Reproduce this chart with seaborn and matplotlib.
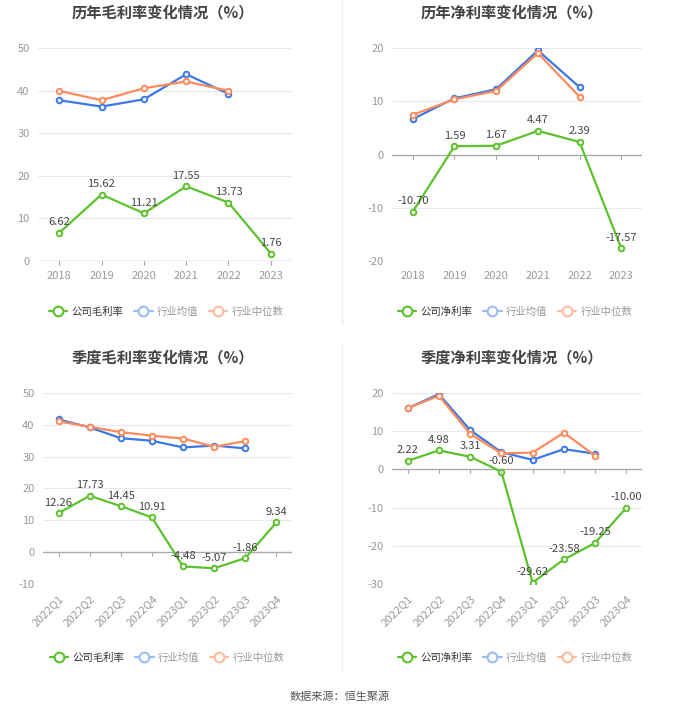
import numpy as np
import pandas as pd
import matplotlib
matplotlib.use("Agg")
import matplotlib.pyplot as plt
from matplotlib.lines import Line2D
import seaborn as sns

sns.set_style("white")
plt.rcParams['font.family'] = ['Noto Sans CJK SC', 'DejaVu Sans']
plt.rcParams['axes.unicode_minus'] = False

years = ['2018', '2019', '2020', '2021', '2022', '2023']
quarters = ['2022Q1', '2022Q2', '2022Q3', '2022Q4', '2023Q1', '2023Q2', '2023Q3', '2023Q4']

# 历年毛利率
gross_year = [6.62, 15.62, 11.21, 17.55, 13.73, 1.76]
gross_year_avg = [37.8, 36.3, 38.0, 43.9, 39.3]
gross_year_med = [40.0, 37.8, 40.6, 42.2, 40.0]

# 历年净利率
net_year = [-10.70, 1.59, 1.67, 4.47, 2.39, -17.57]
net_year_avg = [6.7, 10.6, 12.3, 19.6, 12.7]
net_year_med = [7.5, 10.4, 12.0, 19.1, 10.9]

# 季度毛利率
gross_q = [12.26, 17.73, 14.45, 10.91, -4.48, -5.07, -1.86, 9.34]
gross_q_avg = [41.7, 39.2, 35.8, 35.0, 32.9, 33.5, 32.6]
gross_q_med = [41.1, 39.4, 37.7, 36.6, 35.7, 33.1, 34.9]

# 季度净利率
net_q = [2.22, 4.98, 3.31, -0.60, -29.62, -23.58, -19.25, -10.00]
net_q_avg = [16.0, 19.7, 10.3, 4.5, 2.5, 5.3, 4.1]
net_q_med = [16.0, 19.3, 9.3, 4.2, 4.4, 9.6, 3.6]

GREEN = '#5cc22b'
BLUE = '#3b78e7'
ORANGE = '#ff8a5c'

W, H = 680, 712
fig = plt.figure(figsize=(W / 100, H / 100), dpi=100)


def px_axes(x0, x1, y0, y1):
    return fig.add_axes([x0 / W, 1 - y1 / H, (x1 - x0) / W, (y1 - y0) / H])


def draw(ax, cats, comp, avg, med, ylim, yticks, title, tx, ty, company_name, lx, ly, rotate):
    n = len(cats)
    x = np.arange(n)
    for vals, col in [(comp, GREEN), (avg, BLUE), (med, ORANGE)]:
        d = pd.DataFrame({'x': x[:len(vals)], 'y': vals})
        sns.lineplot(data=d, x='x', y='y', ax=ax, color=col, lw=1.6,
                     marker='o', markersize=4, markerfacecolor='white',
                     markeredgecolor=col, markeredgewidth=1.4)
    for xi, v in zip(x, comp):
        ax.annotate(f'{v:.2f}', (xi, v), xytext=(0, 4), textcoords='offset points',
                    ha='center', va='bottom', fontsize=8, color='#444444')
    ax.set_xlim(-0.5, n - 0.5)
    ax.set_ylim(*ylim)
    ax.set_yticks(yticks)
    ax.set_yticklabels([str(t) for t in yticks])
    ax.set_xticks(x)
    if rotate:
        ax.set_xticklabels(cats, rotation=45, ha='right', rotation_mode='anchor')
    else:
        ax.set_xticklabels(cats)
    ax.set_xlabel('')
    ax.set_ylabel('')
    for s in ax.spines.values():
        s.set_visible(False)
    for t in yticks:
        if t != 0:
            ax.axhline(t, color='#e3e8f4', lw=0.8, zorder=0)
    ax.axhline(0, color='#aaaaaa', lw=1.0, zorder=1)
    ax.tick_params(axis='y', length=0, labelsize=8, labelcolor='#999999', pad=6)
    ax.tick_params(axis='x', length=0, labelsize=8, labelcolor='#999999', pad=7)
    # small tick marks hanging under the zero line
    trans = ax.get_xaxis_transform()
    y0 = (0 - ylim[0]) / (ylim[1] - ylim[0])
    for xi in x:
        ax.add_line(Line2D([xi, xi], [y0, y0 - 4 / (ax.get_position().height * H)],
                           transform=trans, color='#aaaaaa', lw=0.8, clip_on=False))
    fig.text(tx / W, 1 - ty / H, title, ha='center', va='center',
             fontsize=11, fontweight='bold', color='#444444')
    handles = [
        Line2D([], [], color=GREEN, lw=1.6, marker='o', markersize=7,
               markerfacecolor='white', markeredgewidth=1.5),
        Line2D([], [], color='#9dbcf3', lw=1.6, marker='o', markersize=7,
               markerfacecolor='white', markeredgewidth=1.5),
        Line2D([], [], color='#ffbba0', lw=1.6, marker='o', markersize=7,
               markerfacecolor='white', markeredgewidth=1.5),
    ]
    leg = fig.legend(handles, [company_name, '行业均值', '行业中位数'],
                     loc='center', bbox_to_anchor=(lx / W, 1 - ly / H), ncol=3,
                     frameon=False, fontsize=7.5, handlelength=1.8,
                     handletextpad=0.4, columnspacing=1.0)
    for txt, c in zip(leg.get_texts(), ['#333333', '#999999', '#999999']):
        txt.set_color(c)


ax1 = px_axes(38, 292, 48.3, 261)
draw(ax1, years, gross_year, gross_year_avg, gross_year_med, (0, 50), [0, 10, 20, 30, 40, 50],
     '历年毛利率变化情况（%）', 163, 12, '公司毛利率', 166, 312, False)

ax2 = px_axes(392, 642, 48.3, 261)
draw(ax2, years, net_year, net_year_avg, net_year_med, (-20, 20), [-20, -10, 0, 10, 20],
     '历年净利率变化情况（%）', 512, 12, '公司净利率', 515, 312, False)

ax3 = px_axes(43, 292, 393, 584)
draw(ax3, quarters, gross_q, gross_q_avg, gross_q_med, (-10, 50), [-10, 0, 10, 20, 30, 40, 50],
     '季度毛利率变化情况（%）', 163, 357, '公司毛利率', 167, 658, True)

ax4 = px_axes(392, 642, 393, 584)
draw(ax4, quarters, net_q, net_q_avg, net_q_med, (-30, 20), [-30, -20, -10, 0, 10, 20],
     '季度净利率变化情况（%）', 512, 357, '公司净利率', 515, 658, True)

# divider lines
fig.add_artist(Line2D([342 / W, 342 / W], [1 - 0 / H, 1 - 325 / H], color='#eeeeee', lw=1))
fig.add_artist(Line2D([342 / W, 342 / W], [1 - 345 / H, 1 - 670 / H], color='#eeeeee', lw=1))

fig.text(340 / W, 1 - 697 / H, '数据来源：恒生聚源', ha='center', va='center',
         fontsize=8, color='#555555')

fig.savefig('out.png', dpi=100)
